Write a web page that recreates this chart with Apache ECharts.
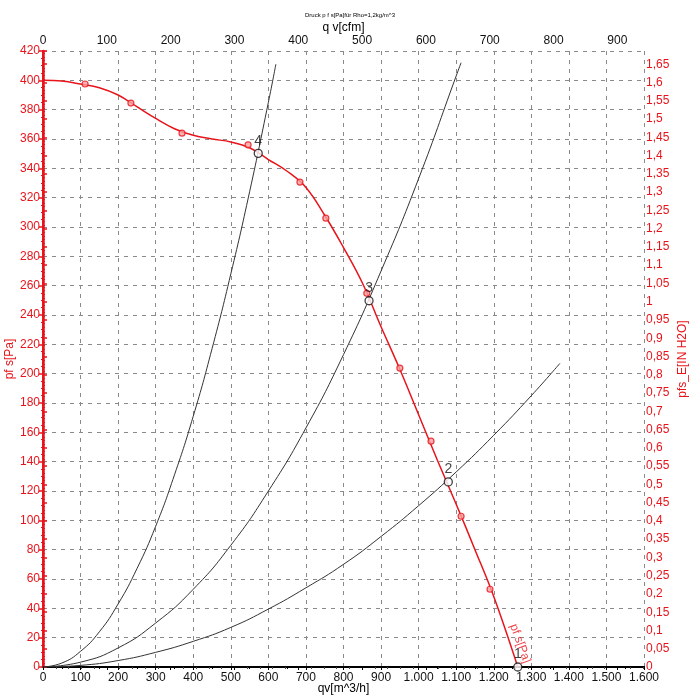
<!DOCTYPE html>
<html><head><meta charset="utf-8">
<script src="https://cdn.jsdelivr.net/npm/echarts@6/dist/echarts.min.js"></script>
<style>html,body{margin:0;padding:0;background:#fff}#c{width:700px;height:700px}</style>
</head><body><div id="c"></div>
<script>
// Fan curve pf s [Pa] vs qv [m^3/h]
const fanQ = [0,50,100,150,200,250,300,350,400,450,500,550,600,650,700,750,800,850,900,950,1000,1050,1100,1150,1200,1264];
const fanP = [400,399.5,397.5,395,390,382,374,367,362.5,360,358,354,346,338,327,308,286,262,232,203,172,141,111,80,48,0];
// measured points on fan curve
const measQ = [112,234,370,546,684,753,862,950,1033,1113,1190];
const measP = [397.5,384.5,364,356,330.6,306,254.8,203.8,154,102.8,53];
// system curves
const sysAQ = [0,50,100,150,200,250,300,350,400,450,500,550,600,620];
const sysAP = [0,2.7,10.7,24,43,67,96,131,171,217,268,324,385,411];
const sysBQ = [0,100,200,300,400,500,600,700,800,900,1000,1100,1113];
const sysBP = [0,3.3,13,30,53,83,120,163,213,270,333,403,412];
const sysCQ = [0,100,200,300,400,500,600,700,800,900,1000,1100,1200,1300,1376];
const sysCP = [0,1.1,4.4,10,17.5,27,39.5,54,70,89,110,133,158,185,207];
// operating points
const opNames = ['1','2','3','4'];
const opQ = [1264,1079,868,573];
const opP = [0,126.2,249.7,350.2];
// curve label
const curveLabel = 'pf s[Pa]';
const curveLabelPos = [1270,16];
// texts
const titleText = 'Druck p f s[Pa]für Rho=1,2kg/m^3';
const xBottomName = 'qv[m^3/h]';
const xTopName = 'q v[cfm]';
const yLeftName = 'pf s[Pa]';
const yRightName = 'pfs_E[IN H2O]';
// axis ranges
const qMax = 1600, pMax = 420;
const cfmPerM3h = 1/1.699;
const inH2OPerPa = 1/249.09;

const F = 'Liberation Sans, Arial, sans-serif';
const RED = '#e8141b';
const pair = (a,b)=>a.map((v,i)=>[v,b[i]]);

const chart = echarts.init(document.getElementById('c'));
chart.setOption({
  animation:false,
  title:{text:titleText, left:'center', top:7, textStyle:{fontSize:6, fontWeight:'normal', color:'#000', fontFamily:F}},
  grid:{left:43, right:56, top:51, bottom:33, containLabel:false, outerBoundsMode:'none'},
  xAxis:[
    {type:'value', position:'bottom', min:0, max:qMax, interval:100,
     name:xBottomName, nameLocation:'middle', nameGap:16, nameMoveOverlap:false, nameTextStyle:{fontSize:12, color:'#000', fontFamily:F},
     axisLine:{lineStyle:{color:'#000', width:2}},
     axisTick:{show:true, length:3, lineStyle:{color:'#000'}},
     minorTick:{show:true, splitNumber:2, length:2, lineStyle:{color:'#000'}},
     axisLabel:{fontSize:12, color:'#111', fontFamily:F, margin:5,
       formatter:v=> v>=1000 ? (Math.floor(v/1000)+'.'+String(v%1000).padStart(3,'0')) : String(v)},
     splitLine:{show:true, lineStyle:{type:[4,5], color:'#8a8a8a', width:1}}},
    {type:'value', position:'top', min:0, max:qMax*cfmPerM3h, interval:100,
     name:xTopName, nameLocation:'middle', nameGap:17, nameMoveOverlap:false, nameTextStyle:{fontSize:12, color:'#000', fontFamily:F},
     axisLine:{lineStyle:{color:'#000', width:2}},
     axisTick:{show:true, length:3, inside:true, lineStyle:{color:'#000'}},
     minorTick:{show:true, splitNumber:5, length:2, lineStyle:{color:'#444'}},
     axisLabel:{fontSize:12, color:'#111', fontFamily:F, margin:4, showMaxLabel:false},
     splitLine:{show:false}}
  ],
  yAxis:[
    {type:'value', position:'left', min:0, max:pMax, interval:20,
     name:yLeftName, nameLocation:'middle', nameGap:27, nameMoveOverlap:false, nameRotate:90, nameTextStyle:{fontSize:12, color:RED, fontFamily:F},
     axisLine:{lineStyle:{color:RED, width:2}},
     axisTick:{show:true, length:4, lineStyle:{color:RED, width:1.5}},
     minorTick:{show:true, splitNumber:4, length:2, lineStyle:{color:RED}},
     axisLabel:{fontSize:12, color:RED, fontFamily:F, margin:3},
     splitLine:{show:true, lineStyle:{type:[4,5], color:'#8a8a8a', width:1}}},
    {type:'value', position:'right', min:0, max:pMax*inH2OPerPa, interval:0.05,
     name:yRightName, nameLocation:'middle', nameGap:33, nameMoveOverlap:false, nameRotate:90, nameTextStyle:{fontSize:12, color:RED, fontFamily:F},
     axisLine:{lineStyle:{color:RED, width:2.5}},
     axisTick:{show:true, length:4, lineStyle:{color:RED, width:1.5}},
     minorTick:{show:true, splitNumber:5, length:2, lineStyle:{color:RED}},
     axisLabel:{fontSize:12, color:RED, fontFamily:F, margin:2, showMaxLabel:false, hideOverlap:false,
       formatter:v=>String(parseFloat(v.toFixed(2))).replace('.',',')},
     splitLine:{show:false}}
  ],
  series:[
    {type:'line', data:pair(sysAQ,sysAP), smooth:true, showSymbol:false, lineStyle:{color:'#333', width:1}, z:2},
    {type:'line', data:pair(sysBQ,sysBP), smooth:true, showSymbol:false, lineStyle:{color:'#333', width:1}, z:2},
    {type:'line', data:pair(sysCQ,sysCP), smooth:true, showSymbol:false, lineStyle:{color:'#333', width:1}, z:2},
    {type:'line', data:pair(fanQ,fanP), smooth:0.4, showSymbol:false, lineStyle:{color:RED, width:1.5}, z:3},
    {type:'scatter', data:pair(measQ,measP), symbol:'circle', symbolSize:6,
     itemStyle:{color:'#f7a0a0', borderColor:RED, borderWidth:1.2}, z:4},
    {type:'scatter', data:opQ.map((q,i)=>({name:opNames[i], value:[q,opP[i]]})), symbol:'circle', symbolSize:8,
     itemStyle:{color:'#fff', borderColor:'#111', borderWidth:1.3}, z:5,
     label:{show:true, formatter:'{b}', position:'top', distance:1, fontSize:14, color:'#111', fontFamily:F}},
    {type:'scatter', data:[curveLabelPos], symbolSize:0, z:6,
     label:{show:true, formatter:curveLabel, rotate:-70, position:'inside', fontSize:12, color:RED, fontFamily:F}}
  ]
});
</script></body></html>
